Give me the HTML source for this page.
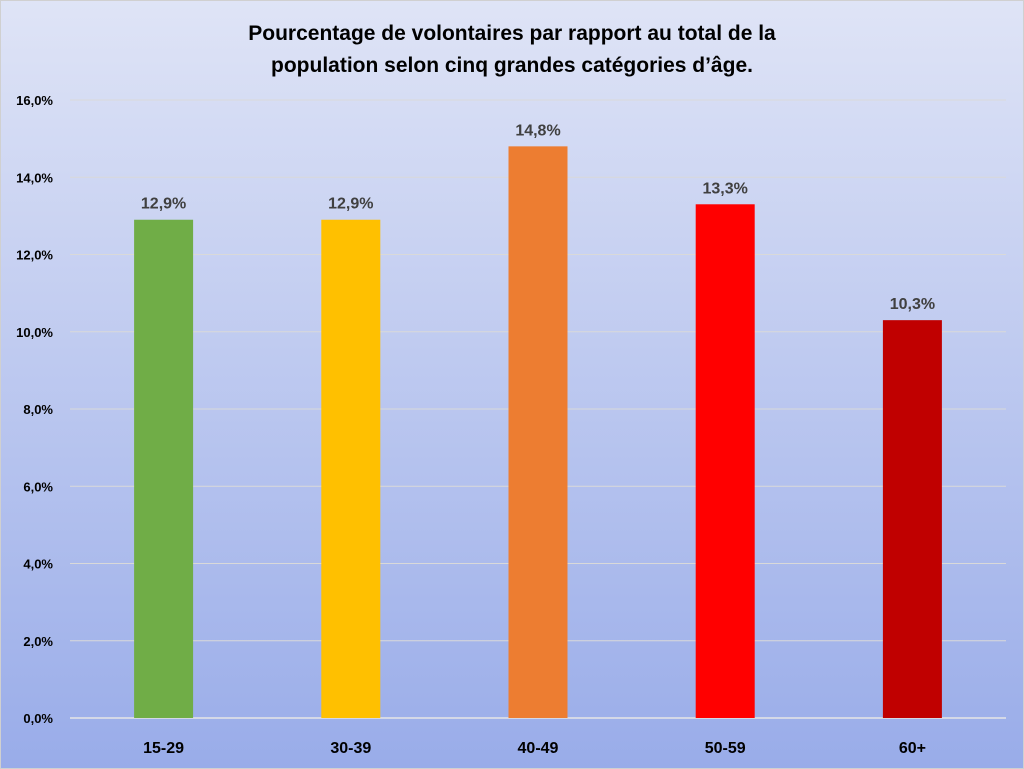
<!DOCTYPE html>
<html><head><meta charset="utf-8"><style>
body{margin:0;width:1024px;height:769px;overflow:hidden}
#c{position:absolute;left:0;top:0;width:1022px;height:767px;border:1px solid #d0d0d0;background:linear-gradient(#dfe4f6,#99ace9)}
svg{position:absolute;left:0;top:0}
text{font-family:"Liberation Sans",sans-serif;font-weight:bold}
</style></head><body>
<div id="c"></div>
<svg id="s" width="1024" height="769">
<text x="512" y="40" text-anchor="middle" font-size="21" fill="#000">Pourcentage de volontaires par rapport au total de la</text>
<text x="512" y="72" text-anchor="middle" font-size="21" fill="#000">population selon cinq grandes catégories d’âge.</text>
</svg>
<script>
const categories=["15-29","30-39","40-49","50-59","60+"];
const values=[12.9,12.9,14.8,13.3,10.3];
const valueLabels=["12,9%","12,9%","14,8%","13,3%","10,3%"];
const colors=["#70ad47","#ffc000","#ed7d31","#ff0000","#c00000"];
const ticks=[0,2,4,6,8,10,12,14,16];
const tickLabels=["0,0%","2,0%","4,0%","6,0%","8,0%","10,0%","12,0%","14,0%","16,0%"];
const s=document.getElementById('s');const NS="http://www.w3.org/2000/svg";
const X0=70,X1=1006,Y0=718,Y1=100,MAX=16;
const y=v=>Y0-(v/MAX)*(Y0-Y1);
const band=(X1-X0)/categories.length;
const xc=i=>X0+band*(i+0.5);
function mk(t,a,txt){const e=document.createElementNS(NS,t);for(const k in a)e.setAttribute(k,a[k]);if(txt!=null)e.textContent=txt;s.appendChild(e);return e;}
ticks.forEach((t,i)=>{
const g=mk('line',{x1:X0,x2:X1,y1:y(t),y2:y(t),stroke:t===0?'#e6e6e6':'#d9d9d9','stroke-width':t===0?1.5:1});


const l=mk('text',{x:53,y:y(t)+5,'text-anchor':'end','font-size':13,fill:'#000'},tickLabels[i]);


});
categories.forEach((c,i)=>{
const b=mk('rect',{x:xc(i)-29.5,y:y(values[i]),width:59,height:Y0-y(values[i]),fill:colors[i]});


const v=mk('text',{x:xc(i),y:y(values[i])-11,'text-anchor':'middle','font-size':16,fill:'#404040'},valueLabels[i]);


const xl=mk('text',{x:xc(i),y:753,'text-anchor':'middle','font-size':16,fill:'#000'},c);


});
</script>
</body></html>
